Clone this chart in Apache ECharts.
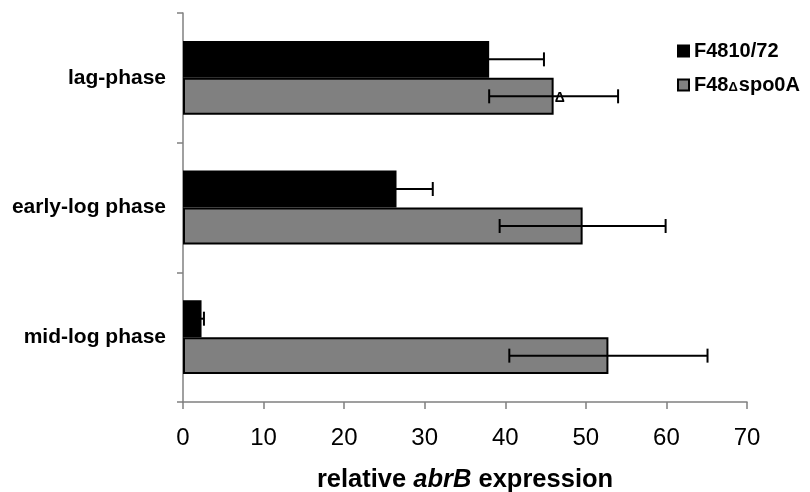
<!DOCTYPE html>
<html>
<head>
<meta charset="utf-8">
<title>relative abrB expression</title>
<script src="https://cdn.jsdelivr.net/npm/echarts@6/dist/echarts.min.js"></script>
<style>
  html, body { margin: 0; padding: 0; background: #ffffff; }
  #chart { width: 810px; height: 492px; }
</style>
</head>
<body>
<div id="chart"></div>
<script>
// Growth phases, top to bottom
var phases = ['lag-phase', 'early-log phase', 'mid-log phase'];

// Wild type strain
var wildName = 'F4810/72';
var wildValues = [38.0, 26.5, 2.3];
var wildErrors = [6.8, 4.5, 0.3];

// spo0A mutant strain
var mutantName = 'F48\u0394spo0A';
var mutantValues = [46.0, 49.6, 52.8];
var mutantErrors = [8.0, 10.3, 12.3];

// X axis ticks
var xMin = 0, xMax = 70, xStep = 10;

var FONT = "'Liberation Sans', Arial, Helvetica, sans-serif";
var CATEGORY_GAP = 0.43;

// Error bar drawn over the bar of one series; slot 0 is the upper bar in each band
function errorBarRenderer(slot) {
  return function (params, api) {
    var cat = api.value(0);
    var v = api.value(1);
    var e = api.value(2);
    var band = api.size([0, 1])[1];
    var barW = band * (1 - CATEGORY_GAP) / 2;
    var dy = slot === 0 ? -barW / 2 : barW / 2;
    var lo = api.coord([v - e, cat]);
    var hi = api.coord([v + e, cat]);
    var y = lo[1] + dy;
    var cap = 7;
    var style = { stroke: '#000000', lineWidth: 2, fill: null };
    return {
      type: 'group',
      children: [
        { type: 'line', shape: { x1: lo[0], y1: y, x2: hi[0], y2: y }, style: style },
        { type: 'line', shape: { x1: lo[0], y1: y - cap, x2: lo[0], y2: y + cap }, style: style },
        { type: 'line', shape: { x1: hi[0], y1: y - cap, x2: hi[0], y2: y + cap }, style: style }
      ]
    };
  };
}

function errorData(values, errors) {
  return values.map(function (v, i) { return [i, v, errors[i]]; });
}

// The lag-phase bar of the mutant carries a small delta sign at its end
var mutantBarData = mutantValues.map(function (v, i) {
  if (i === 0) {
    return {
      value: v,
      label: {
        show: true, position: 'right', distance: 1, formatter: '\u0394',
        color: '#000000', fontSize: 14, fontWeight: 'bold', fontFamily: FONT, offset: [0, 2]
      }
    };
  }
  return v;
});

var chart = echarts.init(document.getElementById('chart'), null, { renderer: 'canvas' });

chart.setOption({
  animation: false,
  backgroundColor: '#ffffff',
  textStyle: { fontFamily: FONT },
  grid: { left: 183, right: 63, top: 13, bottom: 90, containLabel: false, outerBoundsMode: 'none' },
  legend: {
    orient: 'vertical',
    left: 672,
    top: 36,
    padding: 5,
    itemWidth: 11,
    itemHeight: 11,
    itemGap: 14,
    icon: 'rect',
    data: [wildName, mutantName],
    textStyle: {
      fontFamily: FONT, fontSize: 20, fontWeight: 'bold', color: '#000000',
      rich: {
        b: { fontFamily: FONT, fontSize: 20, fontWeight: 'bold', color: '#000000' },
        s: { fontFamily: FONT, fontSize: 13, fontWeight: 'bold', color: '#000000', padding: [4, 1, 0, 0] }
      }
    },
    formatter: function (name) {
      if (name === mutantName) return '{b|F48}{s|\u0394}{b|spo0A}';
      return name;
    }
  },
  xAxis: {
    type: 'value',
    min: xMin,
    max: xMax,
    interval: xStep,
    name: 'relative {i|abrB} expression',
    nameLocation: 'middle',
    nameGap: 65,
    nameTextStyle: {
      fontFamily: FONT, fontSize: 25.5, fontWeight: 'bold', color: '#000000',
      rich: {
        i: { fontFamily: FONT, fontSize: 25.5, fontWeight: 'bold', fontStyle: 'italic', color: '#000000' }
      }
    },
    axisLine: { show: true, lineStyle: { color: '#808080', width: 1.5 } },
    axisTick: { show: true, length: 7, lineStyle: { color: '#808080', width: 1.5 } },
    axisLabel: { fontFamily: FONT, fontSize: 24, color: '#000000', margin: 24 },
    splitLine: { show: false }
  },
  yAxis: {
    type: 'category',
    data: phases,
    inverse: true,
    axisLine: { show: true, lineStyle: { color: '#808080', width: 1.5 } },
    axisTick: { show: true, length: 6, lineStyle: { color: '#808080', width: 1.5 } },
    axisLabel: { fontFamily: FONT, fontSize: 21, fontWeight: 'bold', color: '#000000', margin: 17 },
    splitLine: { show: false }
  },
  series: [
    {
      name: wildName,
      type: 'bar',
      data: wildValues,
      barGap: '0%',
      barCategoryGap: (CATEGORY_GAP * 100) + '%',
      itemStyle: { color: '#000000', borderColor: '#000000', borderWidth: 1.5 },
      emphasis: { disabled: true }
    },
    {
      name: mutantName,
      type: 'bar',
      data: mutantBarData,
      barGap: '0%',
      barCategoryGap: (CATEGORY_GAP * 100) + '%',
      itemStyle: { color: '#808080', borderColor: '#000000', borderWidth: 2 },
      emphasis: { disabled: true }
    },
    {
      name: wildName + ' error',
      type: 'custom',
      renderItem: errorBarRenderer(0),
      encode: { x: 1, y: 0 },
      data: errorData(wildValues, wildErrors),
      z: 5,
      silent: true
    },
    {
      name: mutantName + ' error',
      type: 'custom',
      renderItem: errorBarRenderer(1),
      encode: { x: 1, y: 0 },
      data: errorData(mutantValues, mutantErrors),
      z: 5,
      silent: true
    }
  ]
});
</script>
</body>
</html>
